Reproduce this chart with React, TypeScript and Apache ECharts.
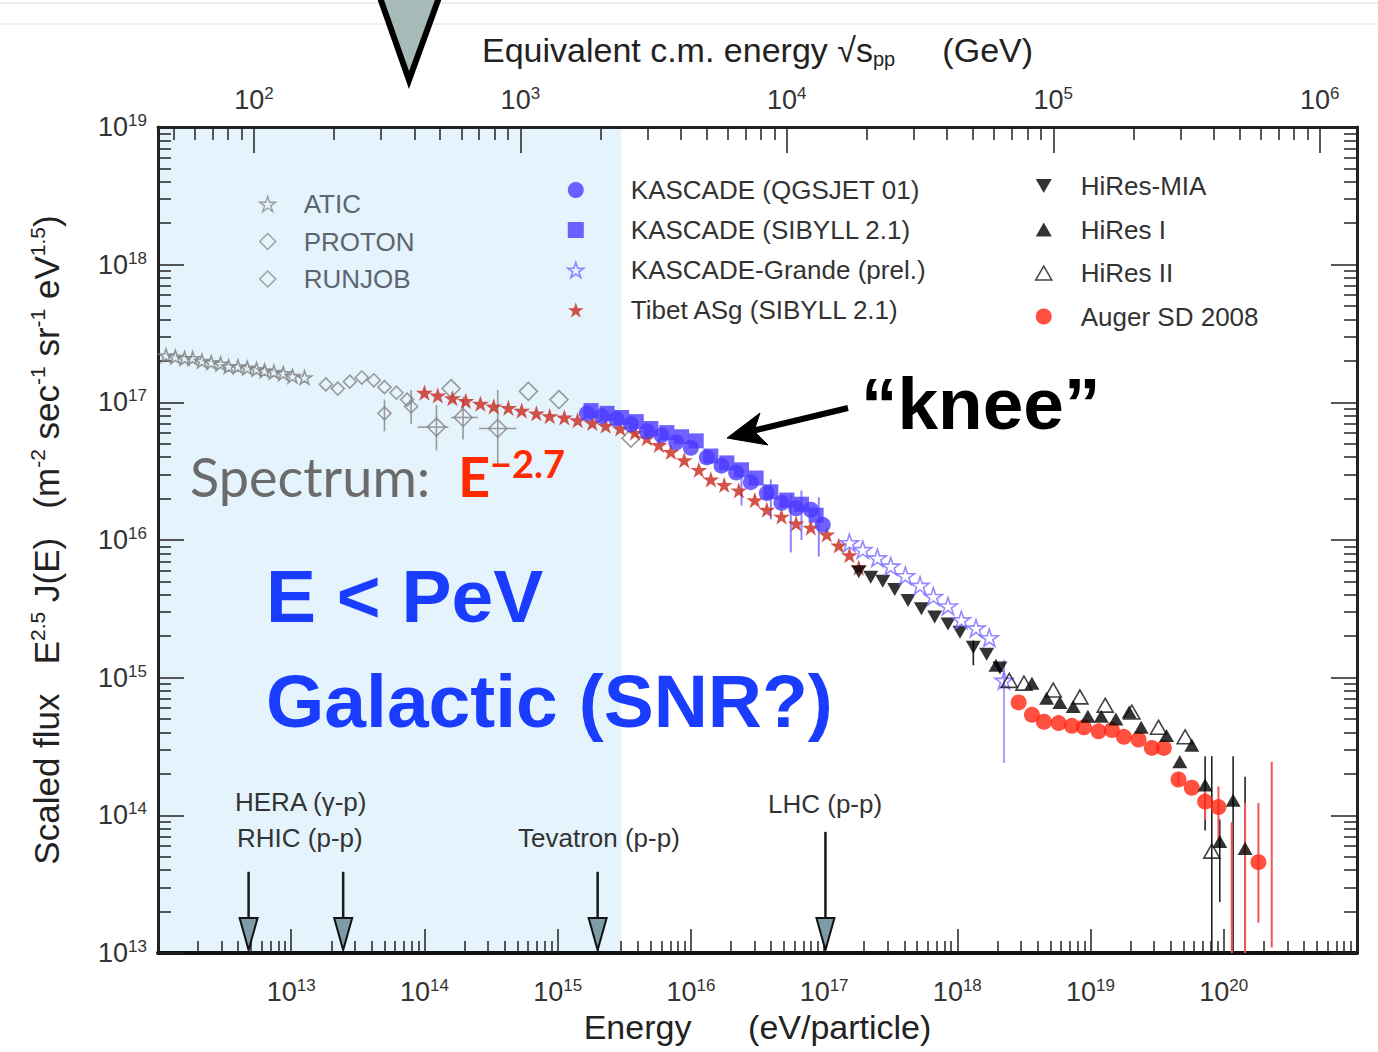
import React, { useEffect, useRef } from 'react';
import * as echarts from 'echarts';

const FONT = '"Liberation Sans", Arial, Helvetica, sans-serif';

// All series values stored as [log10 E (eV), log10 scaled flux]
const aticLog = [[12.06,17.34],[12.13,17.33],[12.20,17.32],[12.26,17.32],[12.33,17.30],[12.40,17.29],[12.47,17.28],[12.53,17.26],[12.60,17.26],[12.67,17.25],[12.74,17.24],[12.80,17.23],[12.87,17.22],[12.94,17.21],[13.01,17.19],[13.10,17.18]];
const protonLog = [[14.09,16.82],[14.20,17.10],[14.29,16.89],[14.55,16.81],[14.78,17.08],[15.01,17.02],[15.55,16.74]];
const runjobLog = [[13.26,17.13],[13.35,17.10],[13.44,17.15],[13.53,17.18],[13.62,17.16],[13.70,17.11],[13.79,17.07],[13.87,17.02],[13.70,16.92],[13.90,16.97]];
const tibetLog = [[14.00,17.07],[14.10,17.05],[14.21,17.03],[14.31,17.01],[14.42,16.99],[14.52,16.97],[14.63,16.96],[14.73,16.94],[14.84,16.92],[14.94,16.90],[15.05,16.89],[15.15,16.87],[15.26,16.85],[15.36,16.83],[15.47,16.81],[15.58,16.78],[15.67,16.74],[15.76,16.69],[15.85,16.64],[15.95,16.58],[16.06,16.51],[16.15,16.44],[16.25,16.40],[16.36,16.36],[16.48,16.29],[16.57,16.22],[16.68,16.17],[16.79,16.12],[16.90,16.09],[17.02,16.04],[17.11,15.96],[17.19,15.89],[17.26,15.80]];
const kascadeQgsLog = [[15.22,16.92],[15.33,16.90],[15.44,16.88],[15.55,16.84],[15.67,16.79],[15.78,16.76],[15.89,16.71],[16.00,16.67],[16.12,16.60],[16.23,16.54],[16.34,16.49],[16.45,16.42],[16.57,16.34],[16.68,16.27],[16.79,16.23],[16.90,16.22],[16.99,16.11]];
const kascadeSibLog = [[15.25,16.94],[15.37,16.92],[15.48,16.89],[15.59,16.86],[15.70,16.81],[15.82,16.78],[15.93,16.75],[16.04,16.72],[16.15,16.61],[16.27,16.56],[16.38,16.51],[16.49,16.45],[16.60,16.35],[16.72,16.29],[16.83,16.26],[16.94,16.18]];
const grandeLog = [[17.19,15.98],[17.29,15.93],[17.40,15.87],[17.50,15.81],[17.61,15.74],[17.72,15.67],[17.82,15.59],[17.93,15.52],[18.03,15.42],[18.14,15.36],[18.24,15.29],[18.35,14.98]];
const hiresMiaLog = [[17.26,15.77],[17.35,15.73],[17.44,15.70],[17.53,15.64],[17.63,15.56],[17.73,15.50],[17.83,15.44],[17.93,15.39],[18.02,15.33],[18.12,15.22],[18.22,15.17],[18.32,15.07]];
const hires1Log = [[18.29,15.09],[18.56,14.96],[18.67,14.85],[18.77,14.82],[18.87,14.79],[18.98,14.72],[19.08,14.72],[19.19,14.70],[19.29,14.75],[19.38,14.64],[19.57,14.58],[19.67,14.39],[19.76,14.51],[19.86,14.22],[19.97,13.81],[20.07,14.11],[20.16,13.76]];
const hires2Log = [[18.39,14.98],[18.50,14.96],[18.72,14.91],[18.92,14.86],[19.11,14.80],[19.31,14.75],[19.51,14.64],[19.71,14.57],[19.91,13.74]];
const augerLog = [[18.46,14.82],[18.56,14.73],[18.65,14.68],[18.76,14.67],[18.86,14.65],[18.95,14.64],[19.06,14.61],[19.16,14.62],[19.25,14.57],[19.36,14.55],[19.46,14.49],[19.55,14.49],[19.66,14.26],[19.76,14.20],[19.86,14.10],[19.96,14.06],[20.26,13.66]];

// Error bars: [log10 E, log10 low, log10 high]
const grayErrLog = [[13.70,16.79,17.02],[13.90,16.84,17.09],[14.09,16.65,16.98],[14.29,16.73,17.04],[14.55,16.55,17.09]];
// Horizontal error bars: [log10 E low, log10 E high, log10 flux]
const grayHErrLog = [[13.95,14.18,16.82],[14.20,14.40,16.89],[14.41,14.69,16.81]];
const blueErrLog = [[16.38,16.25,16.51],[16.60,16.15,16.44],[16.75,15.91,16.33],[16.83,16.00,16.36],[16.96,15.88,16.31]];
const grandeErrLog = [[18.35,14.38,15.13]];
const blackErrLog = [[18.12,15.09,15.27],[19.86,13.89,14.43],[19.91,13.0,14.43],[19.97,13.37,13.97],[20.07,13.0,14.43],[20.16,13.0,14.28]];
const augerErrLog = [[19.66,14.22,14.31],[19.86,13.97,14.19],[19.96,13.82,14.21],[20.06,13.0,13.95],[20.16,13.0,14.09],[20.26,13.22,14.09],[20.36,13.04,14.39]];

// Accelerator equivalent energies
const accelLabels = ['HERA (γ-p)', 'RHIC (p-p)', 'Tevatron (p-p)', 'LHC (p-p)'];
const accelLogE = [12.68, 13.39, 15.30, 17.01];
const accelTopLogF = [13.59, 13.59, 13.59, 13.88];

// Axis ranges
const energyRange = [1e12, 1e21];
const energyLabelExp = [13, 20];
const fluxRange = [1e13, 1e19];
const sqrtsLogRange = [1.64, 6.14];
const galacticLimitE = 3e15;

const STAR = 'path://M50,2 L61.8,38.2 L99.5,38.2 L69,60.5 L80.6,96.5 L50,74 L19.4,96.5 L31,60.5 L0.5,38.2 L38.2,38.2 Z';
const TRI_UP = 'path://M50,0 L100,87 L0,87 Z';
const TRI_DOWN = 'path://M0,0 L100,0 L50,87 Z';

const toVals = (arr: number[][]) => arr.map((p) => [Math.pow(10, p[0]), Math.pow(10, p[1])]);
const toErr = (arr: number[][]) => arr.map((p) => [Math.pow(10, p[0]), Math.pow(10, p[1]), Math.pow(10, p[2])]);

const isDecade = (v: number) => {
  const l = Math.log10(v);
  return Math.abs(l - Math.round(l)) < 1e-6;
};
const expFmt = (v: number) => {
  if (!isDecade(v)) return '';
  return `{b|10}{s|${Math.round(Math.log10(v))}}`;
};
const energyFmt = (v: number) => {
  const e = Math.round(Math.log10(v));
  if (!isDecade(v) || e < energyLabelExp[0] || e > energyLabelExp[1]) return '';
  return `{b|10}{s|${e}}`;
};

const labelRich = {
  b: { fontSize: 27, fontFamily: FONT, color: '#333', lineHeight: 30 },
  s: { fontSize: 17, fontFamily: FONT, color: '#333', lineHeight: 17, verticalAlign: 'top' },
};

const tickLine = { color: '#222', width: 1.5 };

function scatter(name: string, data: number[][], symbol: string, size: number, color: string, open: boolean, z = 3) {
  return {
    type: 'scatter',
    name,
    data: toVals(data),
    symbol,
    symbolSize: size,
    symbolKeepAspect: true,
    itemStyle: open
      ? { color: 'rgba(255,255,255,0)', borderColor: color, borderWidth: 1.6 }
      : { color },
    emphasis: { disabled: true },
    silent: true,
    z,
  };
}

function vErr(data: number[][], color: string, width: number, z = 2) {
  return {
    type: 'custom',
    data: toErr(data),
    encode: { x: 0, y: [1, 2] },
    silent: true,
    clip: true,
    z,
    renderItem: (params: any, api: any) => {
      const p1 = api.coord([api.value(0), api.value(1)]);
      const p2 = api.coord([api.value(0), api.value(2)]);
      return { type: 'line', shape: { x1: p1[0], y1: p1[1], x2: p2[0], y2: p2[1] }, style: { stroke: color, lineWidth: width } };
    },
  };
}

function hErr(data: number[][], color: string, width: number) {
  return {
    type: 'custom',
    data: toErr(data),
    encode: { x: [0, 1], y: 2 },
    silent: true,
    clip: true,
    z: 2,
    renderItem: (params: any, api: any) => {
      const p1 = api.coord([api.value(0), api.value(2)]);
      const p2 = api.coord([api.value(1), api.value(2)]);
      return { type: 'line', shape: { x1: p1[0], y1: p1[1], x2: p2[0], y2: p2[1] }, style: { stroke: color, lineWidth: width } };
    },
  };
}

function txt(x: number, y: number, text: string, fontSize: number, fill: string, fontWeight = 'normal', fontFamily = FONT) {
  return {
    type: 'text',
    x,
    y,
    z: 50,
    silent: true,
    style: {
      text,
      fontSize,
      fontWeight,
      fontFamily,
      fill,
      align: 'left',
      textAlign: 'left',
      verticalAlign: 'middle',
      textVerticalAlign: 'middle',
    },
  };
}

export default function App() {
  const ref = useRef<HTMLDivElement>(null);

  useEffect(() => {
    if (!ref.current) return;
    const chart = echarts.init(ref.current, undefined, { renderer: 'svg' });

    const legendBase = {
      orient: 'vertical',
      itemWidth: 16,
      itemHeight: 16,
      selectedMode: false,
    };
    const legendText = (color: string, pad: number) => ({
      fontFamily: FONT,
      fontSize: 26,
      color,
      lineHeight: 26,
      padding: [0, 0, 0, pad],
    });

    const option: any = {
      animation: false,
      backgroundColor: '#ffffff',
      grid: { left: 158, right: 21, top: 127, bottom: 99, containLabel: false },
      legend: [
        {
          ...legendBase,
          left: 254,
          top: 186,
          itemGap: 11.5,
          textStyle: legendText('#5d6570', 23),
          data: [
            { name: 'ATIC', icon: STAR, itemStyle: { color: 'rgba(255,255,255,0)', borderColor: '#8a8a8a', borderWidth: 1.4 } },
            { name: 'PROTON', icon: 'diamond', itemStyle: { color: 'rgba(255,255,255,0)', borderColor: '#8a8a8a', borderWidth: 1.4 } },
            { name: 'RUNJOB', icon: 'diamond', itemStyle: { color: 'rgba(255,255,255,0)', borderColor: '#8a8a8a', borderWidth: 1.4 } },
          ],
        },
        {
          ...legendBase,
          left: 562,
          top: 172,
          itemGap: 14,
          textStyle: legendText('#333', 42),
          data: [
            { name: 'KASCADE (QGSJET 01)', icon: 'circle' },
            { name: 'KASCADE (SIBYLL 2.1)', icon: 'rect' },
            { name: 'KASCADE-Grande (prel.)', icon: STAR, itemStyle: { color: 'rgba(255,255,255,0)', borderColor: '#7b6bff', borderWidth: 1.6 } },
            { name: 'Tibet ASg (SIBYLL 2.1)', icon: STAR },
          ],
        },
        {
          ...legendBase,
          left: 1030,
          top: 168,
          itemGap: 17.5,
          textStyle: legendText('#333', 24),
          data: [
            { name: 'HiRes-MIA', icon: TRI_DOWN },
            { name: 'HiRes I', icon: TRI_UP },
            { name: 'HiRes II', icon: TRI_UP, itemStyle: { color: 'rgba(255,255,255,0)', borderColor: '#111', borderWidth: 1.5 } },
            { name: 'Auger SD 2008', icon: 'circle' },
          ],
        },
      ],
      xAxis: [
        {
          type: 'log',
          position: 'bottom',
          min: energyRange[0],
          max: energyRange[1],
          axisLine: { show: true, onZero: false, lineStyle: { color: '#111', width: 4 } },
          axisTick: { show: true, inside: true, length: 24, lineStyle: tickLine },
          minorTick: { show: true, splitNumber: 9, length: 12, lineStyle: tickLine },
          splitLine: { show: false },
          minorSplitLine: { show: false },
          axisLabel: { margin: 24, formatter: energyFmt, rich: labelRich },
          name: '{t|Energy      (eV/particle)}',
          nameLocation: 'middle',
          nameGap: 57,
          nameTextStyle: { rich: { t: { fontSize: 34, fontFamily: FONT, color: '#222' } } },
        },
        {
          type: 'log',
          position: 'top',
          min: Math.pow(10, sqrtsLogRange[0]),
          max: Math.pow(10, sqrtsLogRange[1]),
          axisLine: { show: true, onZero: false, lineStyle: { color: '#222', width: 3 } },
          axisTick: { show: true, inside: true, length: 26, lineStyle: tickLine },
          minorTick: { show: true, splitNumber: 9, length: 13, lineStyle: tickLine },
          splitLine: { show: false },
          axisLabel: { margin: 12, formatter: expFmt, rich: labelRich },
          name: '{t|Equivalent c.m. energy √s}{d|pp}{t|     (GeV)}',
          nameLocation: 'middle',
          nameGap: 58,
          nameTextStyle: {
            rich: {
              t: { fontSize: 34, fontFamily: FONT, color: '#222', lineHeight: 38 },
              d: { fontSize: 20, fontFamily: FONT, color: '#222', lineHeight: 20, verticalAlign: 'bottom' },
            },
          },
        },
      ],
      yAxis: [
        {
          type: 'log',
          position: 'left',
          min: fluxRange[0],
          max: fluxRange[1],
          axisLine: { show: true, onZero: false, lineStyle: { color: '#222', width: 3 } },
          axisTick: { show: true, inside: true, length: 26, lineStyle: tickLine },
          minorTick: { show: true, splitNumber: 9, length: 13, lineStyle: tickLine },
          splitLine: { show: false },
          axisLabel: { margin: 11, formatter: expFmt, rich: labelRich },
          name: '{t|Scaled flux   E}{u|2.5}{t| J(E)   (m}{u|-2}{t| sec}{u|-1}{t| sr}{u|-1}{t| eV}{u|1.5}{t|)}',
          nameLocation: 'middle',
          nameGap: 93,
          nameRotate: 90,
          nameTextStyle: {
            rich: {
              t: { fontSize: 35, fontFamily: FONT, color: '#222', lineHeight: 38 },
              u: { fontSize: 21, fontFamily: FONT, color: '#222', lineHeight: 21, verticalAlign: 'top' },
            },
          },
        },
        {
          type: 'log',
          position: 'right',
          min: fluxRange[0],
          max: fluxRange[1],
          axisLine: { show: true, onZero: false, lineStyle: { color: '#222', width: 3 } },
          axisTick: { show: true, inside: true, length: 26, lineStyle: tickLine },
          minorTick: { show: true, splitNumber: 9, length: 13, lineStyle: tickLine },
          splitLine: { show: false },
          axisLabel: { show: false },
        },
      ],
      series: [
        {
          type: 'custom',
          data: [[energyRange[0], galacticLimitE, fluxRange[0], fluxRange[1]]],
          encode: { x: [0, 1], y: [2, 3] },
          silent: true,
          z: -1,
          renderItem: (params: any, api: any) => {
            const p1 = api.coord([api.value(0), api.value(3)]);
            const p2 = api.coord([api.value(1), api.value(2)]);
            return { type: 'rect', shape: { x: p1[0], y: p1[1], width: p2[0] - p1[0], height: p2[1] - p1[1] }, style: { fill: '#e4f3fc' } };
          },
        },
        vErr(grayErrLog, '#9a9a9a', 1.6),
        hErr(grayHErrLog, '#9a9a9a', 1.6),
        scatter('ATIC', aticLog, STAR, 14, '#808080', true),
        scatter('RUNJOB', runjobLog, 'diamond', 13, '#858585', true),
        scatter('PROTON', protonLog, 'diamond', 18, '#858585', true),
        scatter('Tibet ASg (SIBYLL 2.1)', tibetLog, STAR, 17, '#c8281c', false, 3),
        vErr(blueErrLog, '#8f84ff', 2),
        scatter('KASCADE (QGSJET 01)', kascadeQgsLog, 'circle', 16, '#4b3bff', false, 4),
        scatter('KASCADE (SIBYLL 2.1)', kascadeSibLog, 'rect', 15, '#4b3bff', false, 4),
        vErr(grandeErrLog, '#a89fff', 2),
        vErr(blackErrLog, '#222', 1.6),
        vErr(augerErrLog, '#f25555', 2),
        scatter('HiRes-MIA', hiresMiaLog, TRI_DOWN, 15, '#000', false, 4),
        scatter('KASCADE-Grande (prel.)', grandeLog, STAR, 18, '#7b6bff', true, 5),
        scatter('HiRes I', hires1Log, TRI_UP, 15, '#000', false, 5),
        scatter('HiRes II', hires2Log, TRI_UP, 16, '#111', true, 5),
        scatter('Auger SD 2008', augerLog, 'circle', 16, '#ff2410', false, 4),
        {
          type: 'custom',
          data: accelLogE.map((e, i) => [Math.pow(10, e), Math.pow(10, accelTopLogF[i]), fluxRange[0]]),
          encode: { x: 0, y: [1, 2] },
          silent: true,
          z: 6,
          renderItem: (params: any, api: any) => {
            const top = api.coord([api.value(0), api.value(1)]);
            const bot = api.coord([api.value(0), api.value(2)]);
            const x = top[0];
            const tipY = bot[1] - 3;
            const headH = 32;
            const hw = 9;
            return {
              type: 'group',
              children: [
                { type: 'line', shape: { x1: x, y1: top[1], x2: x, y2: tipY - headH + 2 }, style: { stroke: '#1a1a1a', lineWidth: 2.5 } },
                {
                  type: 'polygon',
                  shape: { points: [[x - hw, tipY - headH], [x + hw, tipY - headH], [x, tipY]] },
                  style: { fill: '#7e9ba8', stroke: '#111', lineWidth: 2 },
                },
              ],
            };
          },
        },
      ],
      graphic: [
        { type: 'line', silent: true, shape: { x1: 0, y1: 3, x2: 1378, y2: 3 }, style: { stroke: '#ececec', lineWidth: 2 } },
        { type: 'line', silent: true, shape: { x1: 0, y1: 24, x2: 1378, y2: 24 }, style: { stroke: '#f0f0f0', lineWidth: 2 } },
        {
          type: 'polygon',
          silent: true,
          z: 60,
          shape: { points: [[378, -8], [441, -8], [409, 80]] },
          style: { fill: '#a6bab8', stroke: '#000', lineWidth: 6 },
        },
        txt(190, 476, 'Spectrum:', 54, '#6b6b6b', 'normal', 'Lato'),
        txt(458, 475, 'E', 56, '#ff2a00', 'bold', 'Lato'),
        txt(490, 463, '−2.7', 38, '#ff2a00', 'bold', 'Lato'),
        txt(266, 596, 'E < PeV', 75, '#1a3cff', 'bold'),
        txt(266, 701, 'Galactic (SNR?)', 75, '#1a3cff', 'bold'),
        txt(861, 403, '“knee”', 73, '#000', 'bold'),
        txt(235, 802, accelLabels[0], 26, '#333'),
        txt(237, 838, accelLabels[1], 26, '#333'),
        txt(518, 838, accelLabels[2], 26, '#333'),
        txt(768, 804, accelLabels[3], 26, '#333'),
        { type: 'line', silent: true, z: 50, shape: { x1: 848, y1: 408, x2: 752, y2: 431 }, style: { stroke: '#000', lineWidth: 6 } },
        {
          type: 'polygon',
          silent: true,
          z: 50,
          shape: { points: [[727, 438], [760, 413], [754, 431], [768, 445]] },
          style: { fill: '#000', stroke: '#000', lineWidth: 1 },
        },
      ],
    };

    chart.setOption(option);
    return () => chart.dispose();
  }, []);

  return <div ref={ref} style={{ position: 'fixed', left: 0, top: 0, width: 1378, height: 1052, background: '#fff' }} />;
}
